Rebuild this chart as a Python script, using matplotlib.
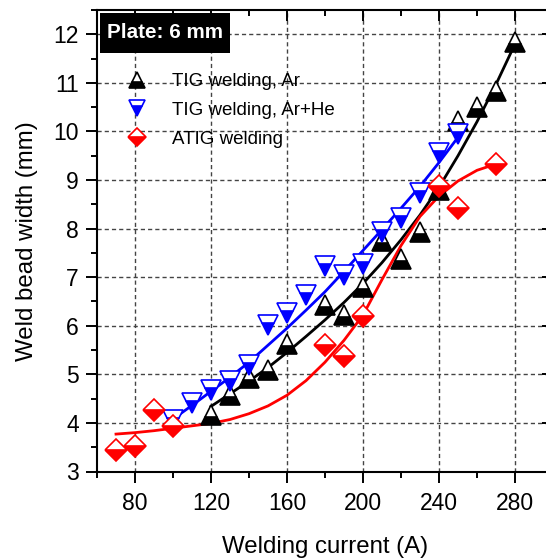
import numpy as np
import matplotlib
matplotlib.use("Agg")
import matplotlib.pyplot as plt
from matplotlib.ticker import MultipleLocator
from matplotlib.patches import Rectangle

plt.rcParams['font.family'] = ['Liberation Sans', 'DejaVu Sans']

# ---- data ----
ar_x = [120, 130, 140, 150, 160, 180, 190, 200, 210, 220, 230, 240, 250, 260, 270, 280]
ar_y = [4.17, 4.58, 4.93, 5.08, 5.62, 6.42, 6.22, 6.80, 7.75, 7.37, 7.93, 8.80, 10.22, 10.50, 10.83, 11.85]

arhe_x = [100, 110, 120, 130, 140, 150, 160, 170, 180, 190, 200, 210, 220, 230, 240, 250]
arhe_y = [4.05, 4.41, 4.67, 4.87, 5.20, 6.02, 6.26, 6.63, 7.22, 7.05, 7.27, 7.93, 8.22, 8.74, 9.55, 9.94]

atig_x = [70, 80, 90, 100, 180, 190, 200, 240, 250, 270]
atig_y = [3.45, 3.53, 4.27, 3.94, 5.60, 5.38, 6.20, 8.87, 8.43, 9.34]

# fitted curves
ar_fit_x = [120, 130, 140, 150, 160, 170, 180, 190, 200, 210, 220, 230, 240, 250, 260, 270, 280]
ar_fit_y = [4.34, 4.60, 4.86, 5.14, 5.45, 5.78, 6.12, 6.48, 6.87, 7.30, 7.77, 8.28, 8.85, 9.50, 10.20, 10.97, 11.80]

arhe_fit_x = [100, 110, 120, 130, 140, 150, 160, 170, 180, 190, 200, 210, 220, 230, 240, 250, 254]
arhe_fit_y = [4.08, 4.36, 4.65, 4.94, 5.25, 5.60, 5.95, 6.32, 6.70, 7.12, 7.55, 7.98, 8.42, 8.87, 9.36, 9.88, 10.08]

atig_fit_x = [70, 80, 90, 100, 110, 120, 130, 140, 150, 160, 170, 180, 190, 200, 210, 220, 230, 240, 250, 260, 270]
atig_fit_y = [3.77, 3.80, 3.84, 3.89, 3.94, 3.99, 4.07, 4.19, 4.35, 4.57, 4.87, 5.25, 5.70, 6.22, 6.95, 7.65, 8.25, 8.67, 8.98, 9.20, 9.33]

labels = ["TIG welding, Ar", "TIG welding, Ar+He", "ATIG welding"]
x_ticks = [80, 120, 160, 200, 240, 280]
y_ticks = [3, 4, 5, 6, 7, 8, 9, 10, 11, 12]

W, H = 546, 559
fig = plt.figure(figsize=(W / 100, H / 100), dpi=100)
left, right, bottom, top = 97, 553, 471.5, 10
ax = fig.add_axes([left / W, (H - bottom) / H, (right - left) / W, (bottom - top) / H])

ax.set_xlim(60, 300)
ax.set_ylim(3, 12.5)

ax.xaxis.set_major_locator(MultipleLocator(40))
ax.xaxis.set_minor_locator(MultipleLocator(20))
ax.yaxis.set_major_locator(MultipleLocator(1))
ax.yaxis.set_minor_locator(MultipleLocator(0.5))
ax.set_xticks(x_ticks)
ax.set_yticks(y_ticks)

ax.grid(True, which='major', linestyle=(0, (3.0, 2.2)), color='#444444', linewidth=1.0)
ax.set_axisbelow(True)

for s in ax.spines.values():
    s.set_linewidth(1.5)

ax.tick_params(axis='both', which='major', direction='out', length=8, width=1.4, labelsize=16.5)
ax.tick_params(axis='both', which='minor', direction='out', length=4, width=1.4)
ax.tick_params(axis='x', which='both', top=True, pad=7)
ax.tick_params(axis='y', which='both', right=True, pad=5)
# top / right ticks point inward
for t in ax.xaxis.get_major_ticks() + ax.xaxis.get_minor_ticks():
    t.tick2line.set_marker(matplotlib.lines.TICKDOWN)
for t in ax.yaxis.get_major_ticks() + ax.yaxis.get_minor_ticks():
    t.tick2line.set_marker(matplotlib.lines.TICKLEFT)

lw = 2.0
ax.plot(ar_fit_x, ar_fit_y, color='black', lw=lw, zorder=3)
ax.plot(arhe_fit_x, arhe_fit_y, color='#0000ff', lw=lw, zorder=3)
ax.plot(atig_fit_x, atig_fit_y, color='#ff0000', lw=lw, zorder=3)

ms_tri = 14.5
ms_dia = 11.5
mew = 1.2
h1, = ax.plot(ar_x, ar_y, ls='none', marker='^', ms=ms_tri, mfc='black', mec='black',
              mfcalt='white', fillstyle='bottom', mew=mew, zorder=4, label=labels[0])
h2, = ax.plot(arhe_x, arhe_y, ls='none', marker='v', ms=ms_tri, mfc='#0000ff', mec='#0000ff',
              mfcalt='white', fillstyle='bottom', mew=mew, zorder=4, label=labels[1])
h3, = ax.plot(atig_x, atig_y, ls='none', marker='D', ms=ms_dia, mfc='#ff0000', mec='#ff0000',
              mfcalt='white', fillstyle='bottom', mew=mew, zorder=5, label=labels[2])

ax.set_xlabel("Welding current (A)", fontsize=17.3, labelpad=15)
ax.set_ylabel("Weld bead width (mm)", fontsize=17.3, labelpad=11)

leg = fig.legend(handles=[h1, h2, h3], labels=labels, loc='upper left',
                 bbox_to_anchor=(123 / W, 1 - 73 / H), frameon=False, fontsize=13.5,
                 handlelength=1.5, handletextpad=1.1, labelspacing=0.62, borderpad=0,
                 borderaxespad=0, markerscale=0.8)

# "Plate" label box
fig.patches.append(Rectangle((100 / W, 1 - 53 / H), 130 / W, 40 / H, transform=fig.transFigure,
                             facecolor='black', edgecolor='none', zorder=10))
fig.text(165 / W, 1 - 33 / H, "Plate: 6 mm", color='white', fontsize=14.9, fontweight='bold',
         ha='center', va='center', zorder=11)

fig.savefig("out.png", dpi=100)
